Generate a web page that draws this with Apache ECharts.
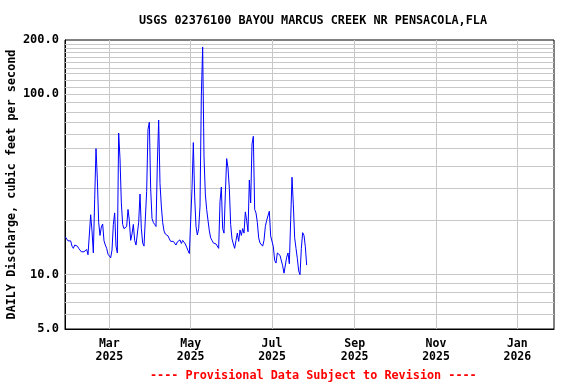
<!DOCTYPE html>
<html><head><meta charset="utf-8">
<script src="https://cdn.jsdelivr.net/npm/echarts@6/dist/echarts.min.js"></script>
<style>html,body{margin:0;padding:0;background:#fff}#c{width:576px;height:384px}</style>
</head><body><div id="c"></div>
<script>
const chartTitle = 'USGS 02376100 BAYOU MARCUS CREEK NR PENSACOLA,FLA';
const footerText = '---- Provisional Data Subject to Revision ----';
const yAxisName = 'DAILY Discharge, cubic feet per second';
const firstDay = '2025-01-27';
const flows = [
  16.2,16.4,15.4,15.4,15.4,14.4,14.0,14.6,14.6,14.4,
  14.0,13.7,13.4,13.4,13.4,13.4,13.8,12.9,13.2,21.5,
  17.5,13.2,26,50,34,19.5,16.5,18.4,19.1,15.4,
  14.6,14.0,13.0,13.0,12.4,13.7,19,22,14.4,13.2,
  61,44,25,19,18,17.7,18.5,23,20,15.5,
  16.8,19,15.5,14.6,14.6,19.5,28,18,15,14.4,
  14.5,29,64,70,30,20.5,19.5,19,18.5,41,
  72,32,24,19.5,17.5,16.8,16.5,16.4,15.8,15.3,
  15.3,15.3,15.0,14.6,15.2,15.0,15.6,14.9,15.5,15.4,
  14.8,14.2,13.6,13.1,13.0,30,54,27,18.5,16.6,
  18,24,98,183,45,28,23,20,17.5,16,
  15.5,15.0,14.8,14.8,14.7,14.0,25.4,30.6,18,17,
  28,44,39,30,19,15.8,14.8,14.0,15.5,17,
  15.3,17.7,16.5,18,17,22.3,20,17.3,33.5,25,
  53,58.5,23,22,19.5,16,15,15.2,14.4,15.5,
  18.5,20,20.5,22.5,16.4,16.4,14.3,12,11.6,13.2,
  13.5,12.8,12.8,11.2,10.2,10.0,12.5,13.2,11.5,20,
  34.7,24.4,16,14,12.3,10.5,10.0,14,17.1,16.5,
  14.3,11.3
];
const xTickDates = ['2025-03-01','2025-05-01','2025-07-01','2025-09-01','2025-11-01','2026-01-01'];
const xRange = ['2025-01-26T18:00:00Z','2026-01-28T12:00:00Z'];
const yRange = [5, 200];
const yGridValues = [6,7,8,9,10,20,30,40,50,60,70,80,90,100,110,120,130,140,150,160,170,180,190];
const monthNames = ['Jan','Feb','Mar','Apr','May','Jun','Jul','Aug','Sep','Oct','Nov','Dec'];

const dayMs = 86400000;
const t0 = Date.parse(firstDay + 'T00:00:00Z');
const seriesData = flows.map((v, i) => [t0 + i * dayMs, v]);
const xTicks = xTickDates.map(d => Date.parse(d + 'T00:00:00Z'));
const FONT = 'DejaVu Sans Mono';
const gridLineStyle = {color: '#c8c8c8', width: 1, type: 'solid'};

const chart = echarts.init(document.getElementById('c'), null, {renderer: 'canvas'});
chart.setOption({
  animation: false,
  backgroundColor: '#fff',
  title: [
    {text: chartTitle, left: 134, top: 10,
     textStyle: {fontFamily: FONT, fontWeight: 'bold', fontSize: 11.8, color: '#000'}},
    {text: footerText, left: 145, top: 365,
     textStyle: {fontFamily: FONT, fontWeight: 'bold', fontSize: 11.8, color: '#ff0000'}}
  ],
  grid: {left: 65, right: 22, top: 40, bottom: 55, containLabel: false, outerBoundsMode: 'none',
         show: true, borderColor: '#000', borderWidth: 1, backgroundColor: 'transparent'},
  xAxis: {
    type: 'value',
    min: Date.parse(xRange[0]), max: Date.parse(xRange[1]),
    axisLine: {show: true, lineStyle: {color: '#000', width: 1}},
    axisTick: {show: false},
    splitLine: {show: false},
    axisLabel: {
      customValues: xTicks,
      formatter: v => { const d = new Date(v); return monthNames[d.getUTCMonth()] + '\n' + d.getUTCFullYear(); },
      fontFamily: FONT, fontWeight: 'bold', fontSize: 11.5, color: '#000', lineHeight: 13, margin: 9,
      hideOverlap: false
    }
  },
  yAxis: {
    type: 'log', logBase: 10, min: yRange[0], max: yRange[1],
    name: yAxisName, nameLocation: 'middle', nameGap: 47, nameRotate: 90, nameMoveOverlap: false,
    nameTextStyle: {fontFamily: FONT, fontWeight: 'bold', fontSize: 11.8, color: '#000'},
    axisLine: {show: true, lineStyle: {color: '#000', width: 1}},
    axisTick: {show: false},
    splitLine: {show: false},
    minorTick: {show: false},
    minorSplitLine: {show: false},
    axisLabel: {
      formatter: v => Number(v).toFixed(1),
      fontFamily: FONT, fontWeight: 'bold', fontSize: 12, color: '#000', margin: 6
    }
  },
  series: [{
    type: 'line',
    data: seriesData,
    showSymbol: false,
    symbol: 'none',
    z: 3,
    lineStyle: {color: '#0000ff', width: 1},
    markLine: {
      silent: true, symbol: 'none', z: 1, animation: false,
      label: {show: false},
      lineStyle: gridLineStyle,
      emphasis: {disabled: true},
      data: yGridValues.map(v => ({yAxis: v})).concat(xTicks.map(t => ({xAxis: t})))
    }
  }]
});
</script></body></html>
